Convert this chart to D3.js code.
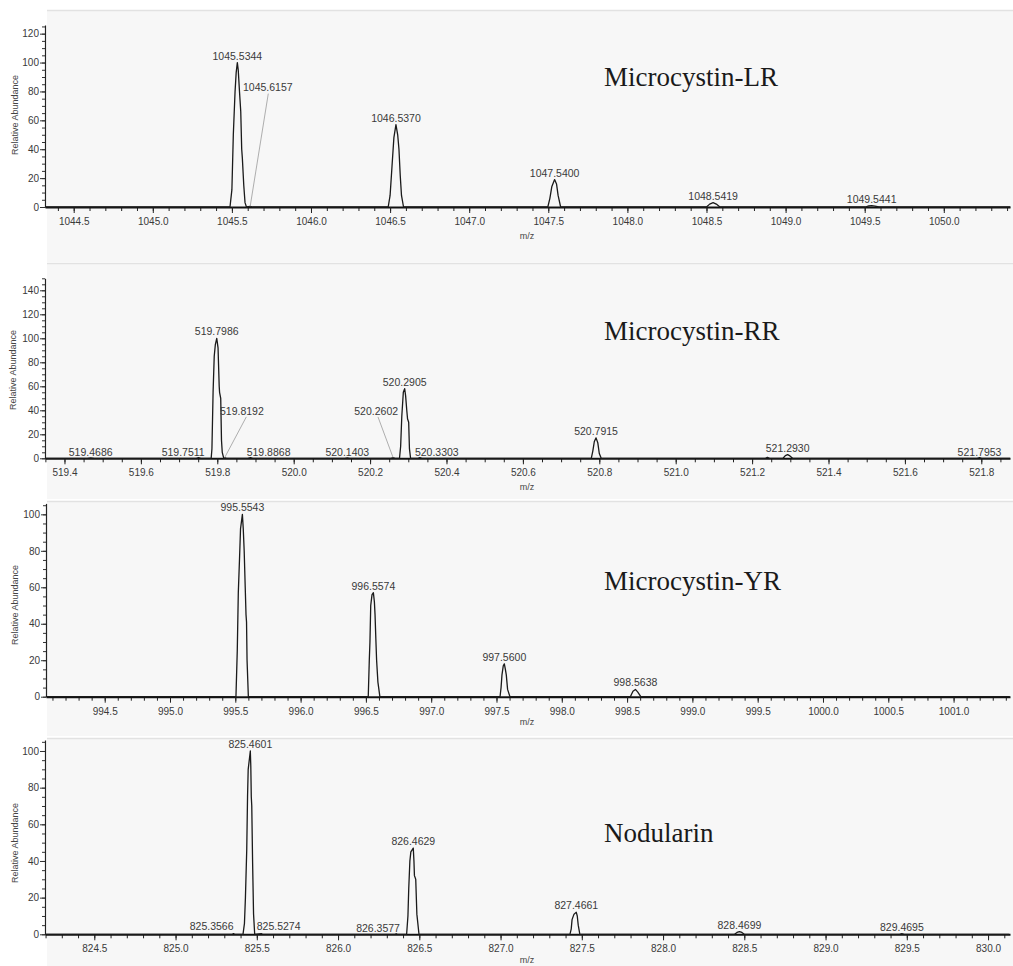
<!DOCTYPE html>
<html>
<head>
<meta charset="utf-8">
<script src="https://cdn.jsdelivr.net/npm/d3@7"></script>
<style>
  body { margin: 0; background: #fff; }
  svg { display: block; }
  .tick text { font-family: 'Liberation Sans', Arial, sans-serif; font-size: 10px; fill: #3a3a3a; }
  .peak-label { font-family: 'Liberation Sans', Arial, sans-serif; font-size: 10.5px; fill: #3a3a3a; }
  .small-label { font-family: 'Liberation Sans', Arial, sans-serif; font-size: 9px; fill: #444; }
  .title { font-family: 'Liberation Serif', 'DejaVu Serif', serif; font-size: 27px; fill: #1a1a1a; }
</style>
</head>
<body>
<script>
// Microcystin-LR
const lrMz = [1045.5344, 1045.6157, 1046.5370, 1047.5400, 1048.5419, 1049.5441];
const lrAb = [100, 0.5, 57, 19, 3, 1];
const lrXTicks = [1044.5, 1045.0, 1045.5, 1046.0, 1046.5, 1047.0, 1047.5, 1048.0, 1048.5, 1049.0, 1049.5, 1050.0];
const lrYTicks = [0, 20, 40, 60, 80, 100, 120];
const lrTrace = [
  [1044.32, 0],
  [1045.488, 0], [1045.500, 12], [1045.509, 50], [1045.520, 80], [1045.527, 93], [1045.5344, 100], [1045.540, 95],
  [1045.548, 80], [1045.556, 66], [1045.562, 40], [1045.566, 34], [1045.575, 15], [1045.583, 3], [1045.592, 0],
  [1045.6157, 0.5], [1045.63, 0],
  [1046.488, 0], [1046.500, 8], [1046.512, 28], [1046.524, 48], [1046.5370, 57], [1046.548, 50], [1046.556, 40],
  [1046.564, 22], [1046.572, 8], [1046.585, 0],
  [1047.497, 0], [1047.510, 6], [1047.522, 14], [1047.5400, 19], [1047.552, 16], [1047.562, 8], [1047.578, 0],
  [1048.500, 0], [1048.520, 2], [1048.5419, 3], [1048.562, 2], [1048.585, 0],
  [1049.505, 0], [1049.525, 0.7], [1049.5441, 1], [1049.565, 0.6], [1049.590, 0],
  [1050.42, 0]
];

// Microcystin-RR
const rrMz = [519.4686, 519.7511, 519.7986, 519.8192, 519.8868, 520.1403, 520.2602, 520.2905, 520.3303, 520.7915, 521.2930, 521.7953];
const rrAb = [0.4, 0.5, 100, 0.5, 0.6, 0.4, 0.6, 58, 0.6, 17, 3, 0.5];
const rrXTicks = [519.4, 519.6, 519.8, 520.0, 520.2, 520.4, 520.6, 520.8, 521.0, 521.2, 521.4, 521.6, 521.8];
const rrYTicks = [0, 20, 40, 60, 80, 100, 120, 140];
const rrTrace = [
  [519.35, 0], [519.46, 0], [519.4686, 0.4], [519.478, 0],
  [519.745, 0], [519.7511, 0.5], [519.757, 0],
  [519.784, 0], [519.786, 8], [519.789, 55], [519.792, 85], [519.795, 95], [519.7986, 100], [519.802, 92],
  [519.805, 60], [519.806, 55], [519.809, 50], [519.811, 15], [519.813, 5], [519.817, 0],
  [519.8192, 0.5], [519.824, 0],
  [519.880, 0], [519.8868, 0.6], [519.893, 0],
  [520.134, 0], [520.1403, 0.4], [520.147, 0],
  [520.255, 0], [520.2602, 0.6], [520.265, 0],
  [520.277, 0], [520.280, 10], [520.283, 35], [520.287, 55], [520.2905, 58], [520.293, 52], [520.296, 40],
  [520.298, 33], [520.301, 30], [520.303, 8], [520.306, 0],
  [520.325, 0], [520.3303, 0.6], [520.336, 0],
  [520.779, 0], [520.783, 6], [520.787, 14], [520.7915, 17], [520.796, 13], [520.800, 4], [520.805, 0],
  [521.235, 0], [521.240, 0.8], [521.246, 0],
  [521.281, 0], [521.287, 2.2], [521.2930, 3], [521.299, 2], [521.306, 0],
  [521.789, 0], [521.7953, 0.5], [521.801, 0],
  [521.875, 0]
];

// Microcystin-YR
const yrMz = [995.5543, 996.5574, 997.5600, 998.5638];
const yrAb = [100, 57, 18, 4];
const yrXTicks = [994.5, 995.0, 995.5, 996.0, 996.5, 997.0, 997.5, 998.0, 998.5, 999.0, 999.5, 1000.0, 1000.5, 1001.0];
const yrYTicks = [0, 20, 40, 60, 80, 100];
const yrTrace = [
  [994.05, 0],
  [995.505, 0], [995.515, 25], [995.523, 57], [995.532, 75], [995.540, 92], [995.5543, 100], [995.561, 92],
  [995.568, 80], [995.576, 60], [995.582, 45], [995.586, 41], [995.590, 20], [995.600, 0],
  [996.518, 0], [996.526, 20], [996.531, 30], [996.537, 50], [996.547, 56], [996.5574, 57], [996.565, 52],
  [996.570, 45], [996.576, 32], [996.582, 20], [996.592, 8], [996.607, 0],
  [997.527, 0], [997.535, 5], [997.542, 12], [997.552, 17], [997.5600, 18], [997.568, 15], [997.575, 12],
  [997.585, 4], [997.603, 0],
  [998.525, 0], [998.545, 3], [998.5638, 4], [998.582, 2.5], [998.605, 0],
  [1001.43, 0]
];

// Nodularin
const ndMz = [825.3566, 825.4601, 825.5274, 826.3577, 826.4629, 827.4661, 828.4699, 829.4695];
const ndAb = [0.4, 100, 0.4, 0.3, 47, 12, 1.5, 0.3];
const ndXTicks = [824.5, 825.0, 825.5, 826.0, 826.5, 827.0, 827.5, 828.0, 828.5, 829.0, 829.5, 830.0];
const ndYTicks = [0, 20, 40, 60, 80, 100];
const ndTrace = [
  [824.2, 0],
  [825.350, 0], [825.3566, 0.4], [825.363, 0],
  [825.415, 0], [825.424, 6], [825.430, 20], [825.438, 46], [825.443, 75], [825.447, 90], [825.4601, 100],
  [825.463, 92], [825.466, 75], [825.469, 70], [825.474, 40], [825.476, 30], [825.480, 11], [825.487, 0],
  [825.5274, 0.4], [825.535, 0],
  [826.350, 0], [826.3577, 0.3], [826.365, 0],
  [826.422, 0], [826.430, 10], [826.435, 25], [826.442, 40], [826.448, 45], [826.4629, 47], [826.467, 40],
  [826.470, 32], [826.478, 30], [826.485, 11], [826.498, 0],
  [827.427, 0], [827.435, 3], [827.440, 8], [827.452, 11], [827.4661, 12], [827.472, 10], [827.478, 5], [827.488, 0],
  [828.440, 0], [828.455, 1], [828.4699, 1.5], [828.485, 1], [828.500, 0],
  [829.455, 0], [829.4695, 0.3], [829.485, 0],
  [830.13, 0]
];

const W = 1013, H = 966;
const fmt4 = d3.format('.4f');

// labels that are not simply centred over their peak (anchor given in data units)
const lrCallouts = {
  '1045.6157': { at: [1045.570, 80], anchor: 'start', from: [1045.730, 78.5] }
};
const rrCallouts = {
  '519.7511': { at: [519.767, 2.3], anchor: 'end' },
  '519.8192': { at: [519.807, 36], anchor: 'start', from: [519.876, 34.5] },
  '519.8868': { at: [519.877, 2.3], anchor: 'start' },
  '520.2602': { at: [520.2733, 36], anchor: 'end', from: [520.2207, 34.5] },
  '520.3303': { at: [520.3173, 2.3], anchor: 'start' },
  '519.4686': { at: [519.4686, 2.3], anchor: 'middle' },
  '520.1403': { at: [520.1403, 2.3], anchor: 'middle' },
  '521.7953': { at: [521.7953, 2.3], anchor: 'middle' }
};
const ndCallouts = {
  '825.3566': { at: [825.3566, 2.3], anchor: 'end' },
  '825.5274': { at: [825.4994, 2.3], anchor: 'start' },
  '826.3577': { at: [826.381, 1.5], anchor: 'end' }
};

const panels = [
  { name: 'Microcystin-LR', mz: lrMz, ab: lrAb, trace: lrTrace, xTicks: lrXTicks, minor: 0.1, yTicks: lrYTicks, callouts: lrCallouts,
    top: 10, bottom: 262, x0: 45, xDomain: [1044.3186, 1050.4185], y0: 207, yTop: 25, yMax: 126,
    titleY: 86, mzY: 239, yLab: [15, 115] },
  { name: 'Microcystin-RR', mz: rrMz, ab: rrAb, trace: rrTrace, xTicks: rrXTicks, minor: 0.05, yTicks: rrYTicks, callouts: rrCallouts,
    top: 263, bottom: 499, x0: 45, xDomain: [519.349, 521.8751], y0: 458.3, yTop: 278.3, yMax: 150,
    titleY: 340, mzY: 490, yLab: [13, 370] },
  { name: 'Microcystin-YR', mz: yrMz, ab: yrAb, trace: yrTrace, xTicks: yrXTicks, minor: 0.1, yTicks: yrYTicks, callouts: {},
    top: 501, bottom: 736, x0: 46, xDomain: [994.0505, 1001.432], y0: 696.7, yTop: 503.4, yMax: 106,
    titleY: 590, mzY: 725, yLab: [15, 605] },
  { name: 'Nodularin', mz: ndMz, ab: ndAb, trace: ndTrace, xTicks: ndXTicks, minor: 0.1, yTicks: ndYTicks, callouts: ndCallouts,
    top: 738, bottom: 966, x0: 45, xDomain: [824.1966, 830.135], y0: 934.3, yTop: 740, yMax: 106,
    titleY: 842, mzY: 963, yLab: [15, 843] }
];

const svg = d3.select('body').append('svg').attr('width', W).attr('height', H);

panels.forEach(p => {
  const g = svg.append('g');
  const x = d3.scaleLinear().domain(p.xDomain).range([p.x0, 1010]);
  const y = d3.scaleLinear().domain([0, p.yMax]).range([p.y0, p.yTop]);

  g.append('rect').attr('x', 47).attr('y', p.top).attr('width', W - 47).attr('height', p.bottom - p.top)
    .attr('fill', '#f7f7f7');
  g.append('line').attr('x1', 47).attr('x2', W).attr('y1', p.top + 0.5).attr('y2', p.top + 0.5)
    .attr('stroke', '#e2e2e2').attr('stroke-width', 1.5);

  // x axis: minor + major ticks
  const step = p.minor;
  const minors = d3.range(Math.ceil(p.xDomain[0] / step), Math.floor(p.xDomain[1] / step) + 1)
    .map(k => +(k * step).toFixed(3));
  const gxm = g.append('g').attr('transform', `translate(0,${p.y0})`)
    .call(d3.axisBottom(x).tickValues(minors).tickSize(4).tickFormat('').tickSizeOuter(0));
  gxm.select('.domain').remove();
  gxm.selectAll('line').attr('stroke', '#222');
  const gx = g.append('g').attr('transform', `translate(0,${p.y0})`)
    .call(d3.axisBottom(x).tickValues(p.xTicks).tickSize(6).tickPadding(5)
      .tickFormat(d3.format('.1f')).tickSizeOuter(0));
  gx.select('.domain').attr('stroke', '#111').attr('stroke-width', 2);
  gx.selectAll('line').attr('stroke', '#222');

  // y axis
  const yMinors = d3.range(0, p.yMax + 0.01, 5);
  const gym = g.append('g').attr('transform', `translate(${p.x0},0)`)
    .call(d3.axisLeft(y).tickValues(yMinors).tickSize(3).tickFormat('').tickSizeOuter(0));
  gym.select('.domain').remove();
  gym.selectAll('line').attr('stroke', '#333');
  const gy = g.append('g').attr('transform', `translate(${p.x0},0)`)
    .call(d3.axisLeft(y).tickValues(p.yTicks).tickSize(5).tickPadding(1).tickSizeOuter(0));
  gy.select('.domain').attr('stroke', '#222').attr('stroke-width', 1.2);
  gy.selectAll('line').attr('stroke', '#333');

  g.append('text').attr('class', 'small-label')
    .attr('transform', `translate(${p.yLab[0]},${p.yLab[1]}) rotate(-90)`)
    .attr('text-anchor', 'middle').attr('dy', '0.35em').text('Relative Abundance');
  g.append('text').attr('class', 'small-label').attr('x', 527).attr('y', p.mzY)
    .attr('text-anchor', 'middle').text('m/z');

  // spectrum trace
  const line = d3.line().x(d => x(d[0])).y(d => y(d[1]));
  g.append('path').datum(p.trace).attr('d', line)
    .attr('fill', 'none').attr('stroke', '#1a1a1a').attr('stroke-width', 1.3).attr('stroke-linejoin', 'round');

  // peak labels
  p.mz.forEach((m, i) => {
    const key = fmt4(m);
    const co = p.callouts[key];
    if (co && co.from) {
      g.append('line')
        .attr('x1', x(co.from[0])).attr('y1', y(co.from[1]))
        .attr('x2', x(m)).attr('y2', y(p.ab[i]))
        .attr('stroke', '#9a9a9a').attr('stroke-width', 0.8);
    }
    const t = g.append('text').attr('class', 'peak-label').text(key);
    if (co) {
      t.attr('x', x(co.at[0])).attr('y', y(co.at[1])).attr('text-anchor', co.anchor);
    } else {
      t.attr('x', x(m)).attr('y', y(p.ab[i]) - 3).attr('text-anchor', 'middle');
    }
  });

  g.append('text').attr('class', 'title').attr('x', 604).attr('y', p.titleY).text(p.name);
});
</script>
</body>
</html>
